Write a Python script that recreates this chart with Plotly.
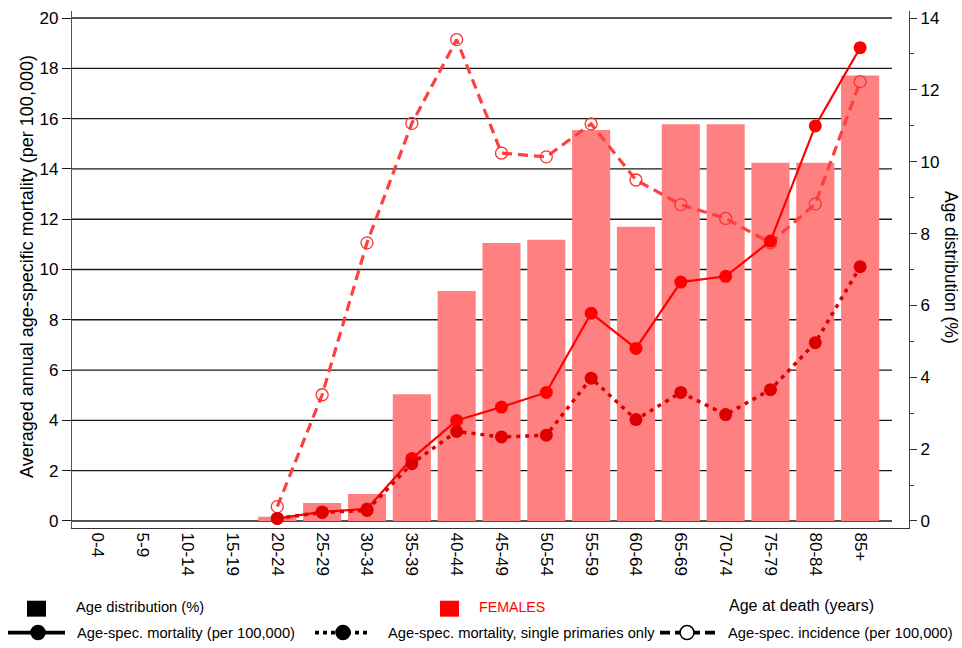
import plotly.graph_objects as go

# Age groups (years at death)
age_groups = ["0-4", "5-9", "10-14", "15-19", "20-24", "25-29", "30-34", "35-39",
              "40-44", "45-49", "50-54", "55-59", "60-64", "65-69", "70-74",
              "75-79", "80-84", "85+"]

# Age distribution of deaths (%)
age_distribution = [None, None, None, None, 0.12, 0.50, 0.75, 3.53, 6.40, 7.74,
                    7.83, 10.88, 8.19, 11.04, 11.04, 9.97, 9.97, 12.40]

# Age-specific mortality (per 100,000)
mortality = [None, None, None, None, 0.10, 0.36, 0.48, 2.48, 4.00, 4.53,
             5.11, 8.26, 6.86, 9.50, 9.73, 11.13, 15.71, 18.82]

# Age-specific mortality, single primaries only (per 100,000)
mortality_single = [None, None, None, None, 0.10, 0.34, 0.42, 2.28, 3.56, 3.34,
                    3.41, 5.68, 4.03, 5.11, 4.23, 5.22, 7.09, 10.11]

# Age-specific incidence (per 100,000)
incidence = [None, None, None, None, 0.57, 5.02, 11.06, 15.81, 19.14, 14.63,
             14.48, 15.79, 13.56, 12.58, 12.03, 11.06, 12.61, 17.47]

left_ticks = list(range(0, 21, 2))
right_ticks = list(range(0, 15, 2))

FONT = "Liberation Sans, Arial, sans-serif"

# plot-area geometry in pixels
L, R, T, B = 72, 909, 9, 528
W, H = 962, 648


def px_x(p):
    return (p - L) / (R - L)


def px_y(p):
    return (B - p) / (B - T)


fig = go.Figure()

# Bars on the base axis (drawn first, beneath the lines)
fig.add_trace(go.Bar(
    x=age_groups, y=age_distribution, yaxis="y",
    marker=dict(color="#FF8080", line=dict(width=0)),
    width=0.85, showlegend=False,
))

fig.add_trace(go.Scatter(
    x=age_groups, y=incidence, yaxis="y2", mode="lines+markers",
    line=dict(color="#FF4040", width=3.2, dash="10px,6px"),
    marker=dict(symbol="circle-open", size=12, color="#FF3030",
                line=dict(width=1.3, color="#FF3030")),
    showlegend=False,
))

fig.add_trace(go.Scatter(
    x=age_groups, y=mortality, yaxis="y2", mode="lines+markers",
    line=dict(color="#FF0000", width=2.2),
    marker=dict(symbol="circle", size=13, color="#FF0000"),
    showlegend=False,
))

fig.add_trace(go.Scatter(
    x=age_groups, y=mortality_single, yaxis="y2", mode="lines+markers",
    line=dict(color="#DD0000", width=3.5, dash="4px,5px"),
    marker=dict(symbol="circle", size=13, color="#DD0000"),
    showlegend=False,
))

shapes = []
# horizontal reference lines at each mortality tick
for v in left_ticks:
    shapes.append(dict(type="line", xref="paper", yref="y2",
                       x0=0, x1=px_x(892), y0=v, y1=v, layer="below",
                       line=dict(color="#1a1a1a", width=1.4)))

# Legend symbols
shapes.append(dict(type="rect", xref="paper", yref="paper",
                   x0=px_x(27), x1=px_x(46), y0=px_y(617), y1=px_y(601),
                   fillcolor="black", line=dict(width=0)))
shapes.append(dict(type="rect", xref="paper", yref="paper",
                   x0=px_x(440), x1=px_x(459), y0=px_y(617), y1=px_y(601),
                   fillcolor="#FF0000", line=dict(width=0)))

row1 = px_y(607)
row2 = px_y(633)
for (a, b, c, dash, filled) in [(8, 65, 38, "solid", True),
                                (315, 368, 343, "4px,4px", True),
                                (660, 717, 687, "10px,5px", False)]:
    shapes.append(dict(type="line", xref="paper", yref="paper",
                       x0=px_x(a), x1=px_x(b), y0=row2, y1=row2,
                       line=dict(color="black", width=3.8, dash=dash)))
    shapes.append(dict(type="circle", xref="paper", yref="paper",
                       xsizemode="pixel", ysizemode="pixel",
                       xanchor=px_x(c), yanchor=row2,
                       x0=-7, x1=7, y0=-7, y1=7,
                       fillcolor="black" if filled else "white",
                       line=dict(color="black", width=1.5)))


def label(text, x, y, size, color="black", angle=0, anchor="left"):
    return dict(text=text, xref="paper", yref="paper", x=x, y=y,
                xanchor=anchor, yanchor="middle", textangle=angle,
                showarrow=False, font=dict(size=size, color=color))


annotations = [
    label("Averaged annual age-specific mortality (per 100,000)",
          px_x(27), px_y(266), 18, angle=-90, anchor="center"),
    label("Age distribution (%)", px_x(951), px_y(266), 17.5, angle=90,
          anchor="center"),
    label("Age distribution (%)", px_x(74), row1, 14.7),
    label("FEMALES", px_x(477), row1, 14.2, color="#FF0000"),
    label("Age at death (years)", px_x(727), px_y(606), 16),
    label("Age-spec. mortality (per 100,000)", px_x(75), row2, 14.7),
    label("Age-spec. mortality, single primaries only", px_x(386), row2, 14.7),
    label("Age-spec. incidence (per 100,000)", px_x(726), row2, 14.7),
]

fig.update_layout(
    width=W, height=H,
    margin=dict(l=L, r=W - R, t=T, b=H - B, pad=0),
    paper_bgcolor="white", plot_bgcolor="white",
    font=dict(family=FONT, size=17, color="black"),
    showlegend=False,
    bargap=0.15,
    xaxis=dict(
        type="category", categoryorder="array", categoryarray=age_groups,
        range=[-0.58, 18.09], tickangle=90, ticks="", showgrid=False,
        showline=True, linecolor="#333333", linewidth=1.3, zeroline=False,
        tickfont=dict(size=17),
    ),
    yaxis=dict(
        side="right", range=[-0.196, 14.196], tickvals=right_ticks,
        ticks="outside", ticklen=7, tickwidth=1.2, tickcolor="#333333",
        minor=dict(dtick=1, ticks="outside", ticklen=4, tickwidth=1.2,
                   tickcolor="#333333", showgrid=False),
        showline=True, linecolor="#444444", linewidth=1.3,
        showgrid=False, zeroline=False, tickfont=dict(size=17),
    ),
    yaxis2=dict(
        overlaying="y", side="left", range=[-0.28, 20.28], tickvals=left_ticks,
        ticks="outside", ticklen=9, tickwidth=1.4, tickcolor="#1a1a1a",
        showline=True, linecolor="#555555", linewidth=1.3,
        showgrid=False, zeroline=False, tickfont=dict(size=17),
    ),
    shapes=shapes,
    annotations=annotations,
)

fig.write_html("out.html")
